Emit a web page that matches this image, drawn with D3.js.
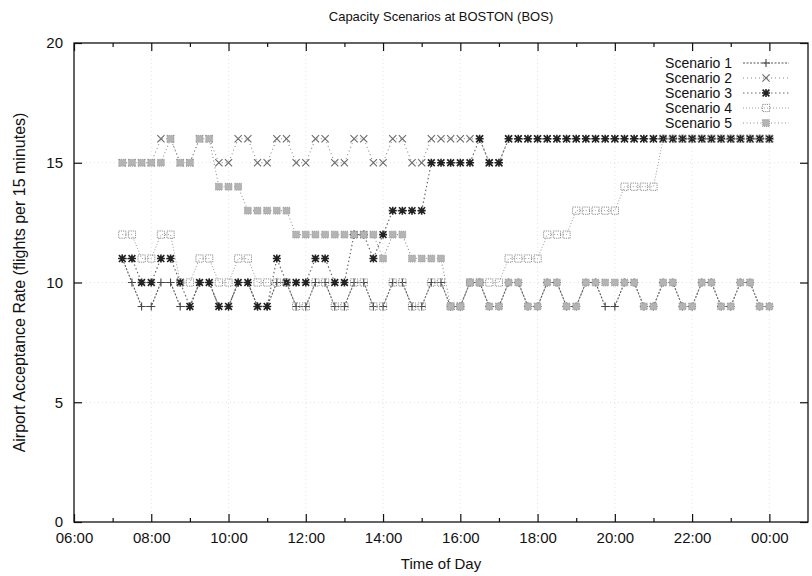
<!DOCTYPE html>
<html>
<head>
<meta charset="utf-8">
<script src="https://cdn.jsdelivr.net/npm/d3@7"></script>
<style>
body{margin:0;background:#fff}
text{font-family:"Liberation Sans",Arial,Helvetica,sans-serif;fill:#111}
</style>
</head>
<body>
<svg id="chart" width="812" height="576"></svg>
<script>
// quarter-hour slots, 07:15 .. 00:00
var times = [
    "07:15","07:30","07:45",
    "08:00","08:15","08:30","08:45",
    "09:00","09:15","09:30","09:45",
    "10:00","10:15","10:30","10:45",
    "11:00","11:15","11:30","11:45",
    "12:00","12:15","12:30","12:45",
    "13:00","13:15","13:30","13:45",
    "14:00","14:15","14:30","14:45",
    "15:00","15:15","15:30","15:45",
    "16:00","16:15","16:30","16:45",
    "17:00","17:15","17:30","17:45",
    "18:00","18:15","18:30","18:45",
    "19:00","19:15","19:30","19:45",
    "20:00","20:15","20:30","20:45",
    "21:00","21:15","21:30","21:45",
    "22:00","22:15","22:30","22:45",
    "23:00","23:15","23:30","23:45",
    "00:00"
];

var scenario1 = [
    11,10,9,
    9,10,10,9,  9,10,10,9,  9,10,10,9,  9,10,10,9,
    9,10,10,9,  9,10,10,9,  9,10,10,9,  9,10,10,9,
    9,10,10,9,  9,10,10,9,  9,10,10,9,  9,10,10,9,
    9,10,10,9,  9,10,10,9,  9,10,10,9,  9,10,10,9,
    9
];
var scenario2 = [
    15,15,15,
    15,16,16,15,  15,16,16,15,  15,16,16,15,  15,16,16,15,
    15,16,16,15,  15,16,16,15,  15,16,16,15,  15,16,16,16,
    16,16,16,15,  15,16,16,16,  16,16,16,16,  16,16,16,16,
    16,16,16,16,  16,16,16,16,  16,16,16,16,  16,16,16,16,
    16
];
var scenario3 = [
    11,11,10,
    10,11,11,10,  9,10,10,9,  9,10,10,9,  9,11,10,10,
    10,11,11,10,  10,12,12,11,  12,13,13,13,  13,15,15,15,
    15,15,16,15,  15,16,16,16,  16,16,16,16,  16,16,16,16,
    16,16,16,16,  16,16,16,16,  16,16,16,16,  16,16,16,16,
    16
];
var scenario4 = [
    12,12,11,
    11,12,12,10,  10,11,11,10,  10,11,11,10,  10,10,10,9,
    9,10,10,9,  9,10,10,9,  9,10,10,9,  9,10,10,9,
    9,10,10,10,  10,11,11,11,  11,12,12,12,  13,13,13,13,
    13,14,14,14,  14,16,16,16,  16,16,16,16,  16,16,16,16,
    16
];
var scenario5 = [
    15,15,15,
    15,15,16,15,  15,16,16,14,  14,14,13,13,  13,13,13,12,
    12,12,12,12,  12,12,12,12,  11,12,12,11,  11,11,11,9,
    9,10,10,9,  9,10,10,9,  9,10,10,9,  9,10,10,10,
    10,10,10,9,  9,10,10,9,  9,10,10,9,  9,10,10,9,
    9
];

var seriesNames = ["Scenario 1","Scenario 2","Scenario 3","Scenario 4","Scenario 5"];
var xTicks = [6,8,10,12,14,16,18,20,22,24];
var xTickLabels = ["06:00","08:00","10:00","12:00","14:00","16:00","18:00","20:00","22:00","00:00"];
var xMinorTicks = [7,9,11,13,15,17,19,21,23];
var yTicks = [0,5,10,15,20];

function toHours(s){
    var p = s.split(':');
    var h = +p[0] + (+p[1])/60;
    return h < 6 ? h + 24 : h;
}

var svg = d3.select('#chart');
svg.append('rect').attr('width',812).attr('height',576).attr('fill','#fff');

var L = 74, R = 808, T = 43, B = 522;
var x = d3.scaleLinear().domain([6,25]).range([L,R]);
var y = d3.scaleLinear().domain([0,20]).range([B,T]);

// faint grid
var grid = svg.append('g').attr('stroke','#dadada').attr('stroke-width',0.8).attr('stroke-dasharray','1,3');
grid.selectAll('line.vx').data(xTicks.slice(1)).enter().append('line')
    .attr('x1',d=>x(d)).attr('x2',d=>x(d)).attr('y1',T).attr('y2',B);
grid.selectAll('line.hy').data(yTicks.slice(1,-1)).enter().append('line')
    .attr('y1',d=>y(d)).attr('y2',d=>y(d)).attr('x1',L).attr('x2',R);

// axes, ticks pointing inwards like gnuplot
function styleAxis(g){
    g.select('.domain').remove();
    g.selectAll('.tick line').attr('stroke','#111').attr('stroke-width',1.2);
    g.selectAll('.tick text').attr('font-size','15px').attr('fill','#111')
        .style('font-family','"Liberation Sans",Arial,sans-serif');
}
svg.append('g').attr('transform','translate(0,'+B+')')
    .call(d3.axisBottom(x).tickValues(xTicks).tickFormat((d,i)=>xTickLabels[i]).tickSizeInner(-8).tickSizeOuter(0).tickPadding(10))
    .call(styleAxis);
svg.append('g').attr('transform','translate(0,'+B+')')
    .call(d3.axisBottom(x).tickValues(xMinorTicks).tickFormat('').tickSizeInner(-4).tickSizeOuter(0))
    .call(styleAxis);
svg.append('g').attr('transform','translate(0,'+T+')')
    .call(d3.axisTop(x).tickValues(xTicks).tickFormat('').tickSizeInner(-8).tickSizeOuter(0))
    .call(styleAxis);
svg.append('g').attr('transform','translate(0,'+T+')')
    .call(d3.axisTop(x).tickValues(xMinorTicks).tickFormat('').tickSizeInner(-4).tickSizeOuter(0))
    .call(styleAxis);
svg.append('g').attr('transform','translate('+L+',0)')
    .call(d3.axisLeft(y).tickValues(yTicks).tickSizeInner(-8).tickSizeOuter(0).tickPadding(11))
    .call(styleAxis);
svg.append('g').attr('transform','translate('+R+',0)')
    .call(d3.axisRight(y).tickValues(yTicks).tickFormat('').tickSizeInner(-8).tickSizeOuter(0))
    .call(styleAxis);

svg.append('rect').attr('x',L).attr('y',T).attr('width',R-L).attr('height',B-T)
    .attr('fill','none').attr('stroke','#111').attr('stroke-width',1.3);

// point shapes
function plus(s){ return 'M'+(-s)+',0H'+s+'M0,'+(-s)+'V'+s; }
function cross(s){ return 'M'+(-s)+','+(-s)+'L'+s+','+s+'M'+(-s)+','+s+'L'+s+','+(-s); }
function star(s){ return plus(s)+cross(s*0.85); }
function square(s){ return 'M'+(-s)+','+(-s)+'H'+s+'V'+s+'H'+(-s)+'Z'; }

var styles = [
    {data:scenario1, line:'#555', dash:'2,1.5', lw:1.1, shape:plus(4),   pstroke:'#444', pfill:'none', pw:1.1, pdash:null},
    {data:scenario2, line:'#8a8a8a', dash:'1,3', lw:1.1, shape:cross(3.6), pstroke:'#6a6a6a', pfill:'none', pw:1.1, pdash:null},
    {data:scenario3, line:'#6a6a6a', dash:'1.5,2.5', lw:1.2, shape:star(4), pstroke:'#222', pfill:'none', pw:1.6, pdash:null},
    {data:scenario4, line:'#9a9a9a', dash:'1,2', lw:1, shape:square(3.6), pstroke:'#8a8a8a', pfill:'none', pw:1, pdash:'1.2,1'},
    {data:scenario5, line:'#8f8f8f', dash:'1,2.5', lw:1.1, shape:square(3.4), pstroke:'#999', pfill:'#b4b4b4', pw:1, pdash:'1,1'}
];

var line = d3.line().x(d=>x(toHours(d.t))).y(d=>y(d.v));

styles.forEach(function(st, k){
    var pts = times.map((t,i)=>({t:t, v:st.data[i]}));
    var g = svg.append('g').attr('class','series s'+(k+1));
    g.append('path').datum(pts).attr('d',line).attr('fill','none')
        .attr('stroke',st.line).attr('stroke-width',st.lw).attr('stroke-dasharray',st.dash);
    g.selectAll('path.pt').data(pts).enter().append('path').attr('class','pt')
        .attr('transform',d=>'translate('+x(toHours(d.t))+','+y(d.v)+')')
        .attr('d',st.shape).attr('fill',st.pfill).attr('stroke',st.pstroke)
        .attr('stroke-width',st.pw).attr('stroke-dasharray',st.pdash);
});

// legend, top right inside the frame
var leg = svg.append('g');
seriesNames.forEach(function(name, k){
    var st = styles[k];
    var yy = 63 + k*15;
    leg.append('text').attr('x',732).attr('y',yy).attr('dy','0.35em')
        .attr('text-anchor','end').attr('font-size','14px').text(name);
    leg.append('line').attr('x1',743).attr('x2',789).attr('y1',yy).attr('y2',yy)
        .attr('stroke',st.line).attr('stroke-width',st.lw).attr('stroke-dasharray',st.dash);
    leg.append('path').attr('transform','translate(766,'+yy+')').attr('d',st.shape)
        .attr('fill',st.pfill).attr('stroke',st.pstroke).attr('stroke-width',st.pw).attr('stroke-dasharray',st.pdash);
});

// titles
svg.append('text').attr('x',441).attr('y',21).attr('text-anchor','middle')
    .attr('font-size','13px').text('Capacity Scenarios at BOSTON (BOS)');
svg.append('text').attr('x',441).attr('y',569).attr('text-anchor','middle')
    .attr('font-size','15px').text('Time of Day');
svg.append('text').attr('transform','translate(25,'+((T+B)/2)+') rotate(-90)')
    .attr('text-anchor','middle').attr('font-size','16px')
    .text('Airport Acceptance Rate (flights per 15 minutes)');
</script>
</body>
</html>
